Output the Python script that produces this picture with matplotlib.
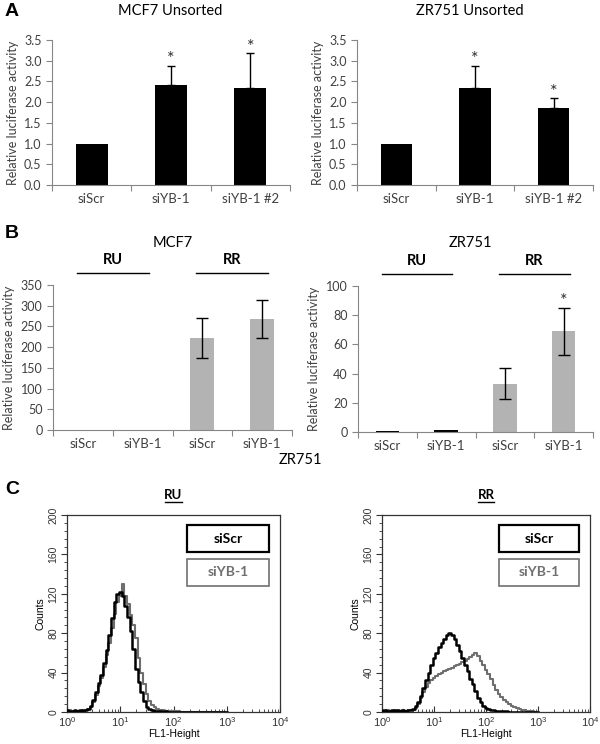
import numpy as np
import matplotlib
matplotlib.use("Agg")
import matplotlib.pyplot as plt
from matplotlib.patches import Rectangle
from matplotlib.ticker import MultipleLocator, LogLocator, NullFormatter

plt.rcParams['font.family'] = ['Lato', 'DejaVu Sans']
plt.rcParams['mathtext.default'] = 'regular'

# ---- Panel A data ----
a_labels = ["siScr", "siYB-1", "siYB-1 #2"]
a_mcf7 = [1.0, 2.42, 2.35]
a_mcf7_err = [0.0, 0.46, 0.83]
a_mcf7_sig = [False, True, True]
a_zr751 = [1.0, 2.33, 1.85]
a_zr751_err = [0.0, 0.55, 0.24]
a_zr751_sig = [False, True, True]

# ---- Panel B data ----
b_labels = ["siScr", "siYB-1", "siScr", "siYB-1"]
b_groups = ["RU", "RR"]
b_mcf7 = [0.4, 0.6, 223, 268]
b_mcf7_err = [0, 0, 48, 46]
b_mcf7_sig = [False, False, False, False]
b_zr751 = [0.8, 1.2, 33, 69]
b_zr751_err = [0, 0, 10.5, 16]
b_zr751_sig = [False, False, False, True]

# ---- Panel C data: FL1 histograms (log10 channel grid) ----
fl1_log = np.round(np.arange(0, 3.001, 0.05), 2)
ru_siscr = [2, 1, 1, 2, 1, 2, 1, 2, 3, 6,
            12, 20, 29, 38, 50, 63, 78, 95, 112, 120,
            122, 118, 108, 96, 82, 64, 44, 30, 20, 11,
            5, 3, 2, 1, 1, 1, 0, 1, 0, 0,
            0, 0, 0, 0, 0, 0, 0, 0, 0, 0,
            0, 0, 0, 0, 0, 0, 0, 0, 0, 0,
            0]
ru_siyb1 = [1, 2, 1, 1, 1, 1, 2, 2, 3, 5,
            10, 17, 26, 35, 46, 58, 70, 85, 100, 112,
            118, 130, 118, 110, 98, 88, 75, 55, 40, 28,
            18, 11, 7, 5, 3, 2, 2, 1, 1, 1,
            1, 1, 1, 0, 0, 0, 0, 0, 0, 0,
            0, 0, 0, 0, 0, 0, 0, 0, 0, 0,
            0]
rr_siscr = [1, 2, 1, 1, 2, 1, 2, 1, 2, 1,
            2, 2, 3, 6, 10, 16, 24, 32, 40, 48,
            55, 60, 66, 70, 74, 78, 80, 78, 74, 68,
            62, 55, 48, 42, 34, 28, 21, 14, 10, 6,
            4, 3, 2, 2, 1, 1, 1, 1, 1, 0,
            0, 0, 0, 0, 0, 0, 0, 0, 0, 0,
            0]
rr_siyb1 = [1, 1, 2, 1, 1, 2, 1, 1, 2, 1,
            1, 2, 2, 4, 8, 14, 20, 25, 29, 32,
            35, 37, 39, 40, 42, 43, 44, 45, 47, 48,
            49, 51, 52, 54, 56, 58, 60, 57, 52, 48,
            43, 39, 33, 27, 22, 18, 15, 12, 10, 8,
            6, 5, 4, 3, 2, 2, 1, 1, 1, 0,
            0]

W, H = 600, 744
fig = plt.figure(figsize=(W / 100, H / 100), dpi=100)

def px_axes(x0, y0, x1, y1):
    return fig.add_axes([x0 / W, 1 - y1 / H, (x1 - x0) / W, (y1 - y0) / H])

def px_text(x, y, s, **kw):
    fig.text(x / W, 1 - y / H, s, **kw)

AXC = '#868686'
TXT = '#404040'
GRAY = '#b3b3b3'

def excel_bars(ax, labels, vals, errs, sig, colors, ymax, step, fmt, both=False, cap=3):
    x = np.arange(len(vals))
    ax.bar(x, vals, width=0.4, color=colors, zorder=2)
    for xi, v, e, s in zip(x, vals, errs, sig):
        if e > 0:
            lo = e if both else 0
            ax.errorbar(xi, v, yerr=[[lo], [e]], fmt='none', ecolor='black',
                        elinewidth=1.0, capsize=cap, capthick=1.0, zorder=3)
        if s:
            ax.annotate('*', (xi, v + e), xytext=(0, -1), textcoords='offset points',
                        ha='center', va='bottom', fontsize=13, color='#303030')
    ax.set_xlim(-0.5, len(vals) - 0.5)
    ax.set_ylim(0, ymax)
    ax.yaxis.set_major_locator(MultipleLocator(step))
    ax.yaxis.set_major_formatter(fmt)
    ax.set_xticks(np.arange(len(vals) + 1) - 0.5)
    ax.set_xticklabels([])
    ax.set_xticks(x, minor=True)
    ax.set_xticklabels(labels, minor=True)
    ax.tick_params(axis='x', which='major', length=4, color=AXC, direction='out')
    ax.tick_params(axis='x', which='minor', length=0, pad=6, labelsize=9.5, labelcolor=TXT)
    ax.tick_params(axis='y', length=4, color=AXC, labelsize=9, labelcolor=TXT)
    for side in ['top', 'right']:
        ax.spines[side].set_visible(False)
    for side in ['left', 'bottom']:
        ax.spines[side].set_color(AXC)
        ax.spines[side].set_linewidth(0.8)
    ax.set_ylabel('Relative luciferase activity', fontsize=9, color=TXT, labelpad=4)

# ---- A ----
axA1 = px_axes(52, 40, 290, 185)
excel_bars(axA1, a_labels, a_mcf7, a_mcf7_err, a_mcf7_sig, 'black', 3.5, 0.5, '{x:.1f}')
axA2 = px_axes(357, 40, 593, 185)
excel_bars(axA2, a_labels, a_zr751, a_zr751_err, a_zr751_sig, 'black', 3.5, 0.5, '{x:.1f}')
px_text(170, 11, 'MCF7 Unsorted', ha='center', va='center', fontsize=10.5)
px_text(470, 11, 'ZR751 Unsorted', ha='center', va='center', fontsize=10.5)

# ---- B ----
b_colors = ['black', 'black', GRAY, GRAY]
axB1 = px_axes(53, 285, 292, 430)
excel_bars(axB1, b_labels, b_mcf7, b_mcf7_err, b_mcf7_sig, b_colors, 350, 50, '{x:.0f}',
           both=True, cap=4.5)
axB2 = px_axes(358, 286, 593, 432)
excel_bars(axB2, b_labels, b_zr751, b_zr751_err, b_zr751_sig, b_colors, 100, 20, '{x:.0f}',
           both=True, cap=4.5)
px_text(173, 243, 'MCF7', ha='center', va='center', fontsize=10.5)
px_text(470, 243, 'ZR751', ha='center', va='center', fontsize=10.5)

for ax in (axB1, axB2):
    for gi, g in enumerate(b_groups):
        c = 0.5 + 2 * gi
        ax.plot([c - 0.6, c + 0.6], [1.083, 1.083], color='black', lw=1.0,
                transform=ax.get_xaxis_transform(), clip_on=False)
        ax.text(c, 1.17, g, transform=ax.get_xaxis_transform(), ha='center',
                va='center', fontsize=10.5, fontweight='bold')

# ---- C ----
px_text(300, 460, 'ZR751', ha='center', va='center', fontsize=10.5)

def facs(ax, title, scr, yb1):
    x = 10 ** fl1_log
    ax.step(x, yb1, where='mid', color='#6e6e6e', lw=1.5, zorder=2)
    ax.step(x, scr, where='mid', color='black', lw=1.8, zorder=3)
    ax.set_xscale('log')
    ax.set_xlim(1, 1e4)
    ax.set_ylim(0, 200)
    ax.yaxis.set_major_locator(MultipleLocator(40))
    ax.yaxis.set_minor_locator(MultipleLocator(8))
    ax.xaxis.set_major_locator(LogLocator(base=10))
    ax.xaxis.set_minor_locator(LogLocator(base=10, subs=np.arange(2, 10)))
    ax.xaxis.set_minor_formatter(NullFormatter())
    ax.tick_params(axis='both', which='major', length=4, width=0.8, labelsize=8,
                   color='#333333', labelcolor='#333333')
    ax.tick_params(axis='both', which='minor', length=2, width=0.6, color='#333333')
    ax.tick_params(axis='x', which='both', direction='in', pad=2)
    ax.tick_params(axis='y', labelrotation=90, pad=2, labelsize=7.5)
    for lab in ax.get_yticklabels():
        lab.set_va('center')
    for s in ax.spines.values():
        s.set_linewidth(0.9)
        s.set_color('#333333')
    ax.set_xlabel('FL1-Height', fontsize=7.5, family=['Liberation Sans'], labelpad=0)
    ax.set_ylabel('Counts', fontsize=7.5, family=['Liberation Sans'], labelpad=2)
    for lab in ax.get_xticklabels() + ax.get_yticklabels():
        lab.set_family(['Liberation Sans'])
    # legend boxes
    for i, (name, col, lw) in enumerate([('siScr', 'black', 1.6), ('siYB-1', '#707070', 1.2)]):
        top = 0.949 - i * 0.172
        ax.add_patch(Rectangle((0.563, top - 0.137), 0.385, 0.137, transform=ax.transAxes,
                               fill=False, edgecolor=col, lw=lw, zorder=4))
        ax.text(0.563 + 0.385 / 2, top - 0.137 / 2, name, transform=ax.transAxes,
                ha='center', va='center', fontsize=10, fontweight='bold', color=col, zorder=5)
    ax.text(0.5, 1.103, title, transform=ax.transAxes, ha='center', va='center',
            fontsize=9.5, fontweight='bold')
    # underline under the subtitle
    ax.plot([0.46, 0.54], [1.066, 1.066], transform=ax.transAxes, color='black',
            lw=1.0, clip_on=False)

axC1 = px_axes(67, 515, 280, 712)
facs(axC1, 'RU', ru_siscr, ru_siyb1)
axC2 = px_axes(382, 515, 590, 712)
facs(axC2, 'RR', rr_siscr, rr_siyb1)

# panel letters
for lab, y in [('A', 12), ('B', 233), ('C', 490)]:
    px_text(12, y, lab, ha='center', va='center', fontsize=14, fontweight='bold',
            family=['Liberation Sans'])

fig.savefig('out.png', dpi=100)
